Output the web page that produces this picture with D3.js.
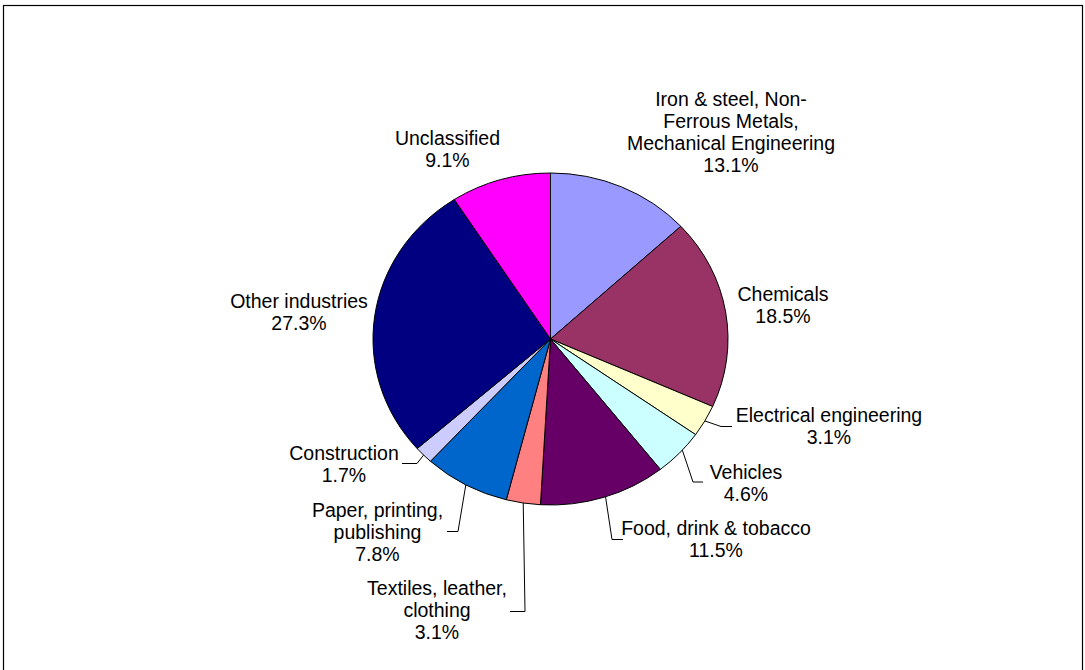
<!DOCTYPE html>
<html>
<head>
<meta charset="utf-8">
<script src="https://cdn.jsdelivr.net/npm/d3@7"></script>
<style>
  html, body { margin: 0; padding: 0; background: #fff; }
  svg { display: block; }
  text { font-family: "Liberation Sans", Arial, sans-serif; font-size: 19.5px; fill: #000; }
</style>
</head>
<body>
<svg id="chart" width="1085" height="670"></svg>
<script>
// Share of energy use by industry sector (%)
const categories = [
  "Iron & steel, Non-Ferrous Metals, Mechanical Engineering",
  "Chemicals",
  "Electrical engineering",
  "Vehicles",
  "Food, drink & tobacco",
  "Textiles, leather, clothing",
  "Paper, printing, publishing",
  "Construction",
  "Other industries",
  "Unclassified"
];
const shares = [13.1, 18.5, 3.1, 4.6, 11.5, 3.1, 7.8, 1.7, 27.3, 9.1];
const colors = ["#9999FF", "#993366", "#FFFFCC", "#CCFFFF", "#660066",
                "#FF8080", "#0066CC", "#CCCCFF", "#000080", "#FF00FF"];
// Wrapped label lines for each sector (percentage appended below)
const labelLines = [
  ["Iron & steel, Non-", "Ferrous Metals,", "Mechanical Engineering"],
  ["Chemicals"],
  ["Electrical engineering"],
  ["Vehicles"],
  ["Food, drink & tobacco"],
  ["Textiles, leather,", "clothing"],
  ["Paper, printing,", "publishing"],
  ["Construction"],
  ["Other industries"],
  ["Unclassified"]
];

// Label placement: text centre x, first baseline y, optional leader elbow/end
const labelLayout = [
  { x: 731, y: 106 },
  { x: 783, y: 301 },
  { x: 829, y: 422, elbow: [721, 426.5], end: [732, 426.5] },
  { x: 746, y: 479, elbow: [693, 482], end: [703, 482] },
  { x: 716, y: 535, elbow: [612, 539.5], end: [623, 539.5] },
  { x: 437, y: 595, elbow: [525, 611.5], end: [510, 611.5] },
  { x: 377.5, y: 517, elbow: [458, 531.5], end: [447, 531.5] },
  { x: 344, y: 460, elbow: [417, 463.5], end: [402, 463.5] },
  { x: 299, y: 308 },
  { x: 447.5, y: 145 }
];
// Small angular nudge (radians) of each leader's start along the slice rim
const leaderShift = [0, 0, 0, -0.025, -0.01, 0, 0, 0, 0, 0];

const svg = d3.select("#chart");
const H = 670;
const cx = 550.5, cy = 339, rx = 177.5, ry = 166;
const lineH = 22;

// Chart area frame
svg.append("rect")
  .attr("x", 3.5).attr("y", 5.5)
  .attr("width", 1079).attr("height", H + 10)
  .attr("fill", "none").attr("stroke", "#000").attr("stroke-width", 1.2);

const data = categories.map((c, i) => ({ name: c, value: shares[i], color: colors[i], i }));
const pie = d3.pie().value(d => d.value).sort(null);
const arcs = pie(data);
const arc = d3.arc().innerRadius(0).outerRadius(ry);

// Pie is slightly wider than tall
const g = svg.append("g")
  .attr("transform", `translate(${cx},${cy}) scale(${rx / ry},1)`);

g.selectAll("path")
  .data(arcs)
  .join("path")
  .attr("d", arc)
  .attr("fill", d => d.data.color)
  .attr("stroke", "#000")
  .attr("stroke-width", 1)
  .attr("vector-effect", "non-scaling-stroke");

// Leader lines from slice edge to label
const edgePoint = (a, shift) => {
  const m = (a.startAngle + a.endAngle) / 2 + shift;
  return [cx + Math.sin(m) * rx, cy - Math.cos(m) * ry];
};
arcs.forEach((a, i) => {
  const L = labelLayout[i];
  if (!L.elbow) return;
  const pts = [edgePoint(a, leaderShift[i]), L.elbow, L.end];
  svg.append("path")
    .attr("d", d3.line()(pts))
    .attr("fill", "none")
    .attr("stroke", "#000")
    .attr("stroke-width", 1);
});

// Labels
const fmt = d3.format(".1f");
arcs.forEach((a, i) => {
  const L = labelLayout[i];
  const lines = labelLines[i].concat([fmt(a.data.value) + "%"]);
  const t = svg.append("text")
    .attr("text-anchor", "middle");
  lines.forEach((ln, k) => {
    t.append("tspan")
      .attr("x", L.x)
      .attr("y", L.y + k * lineH)
      .text(ln);
  });
});
</script>
</body>
</html>
